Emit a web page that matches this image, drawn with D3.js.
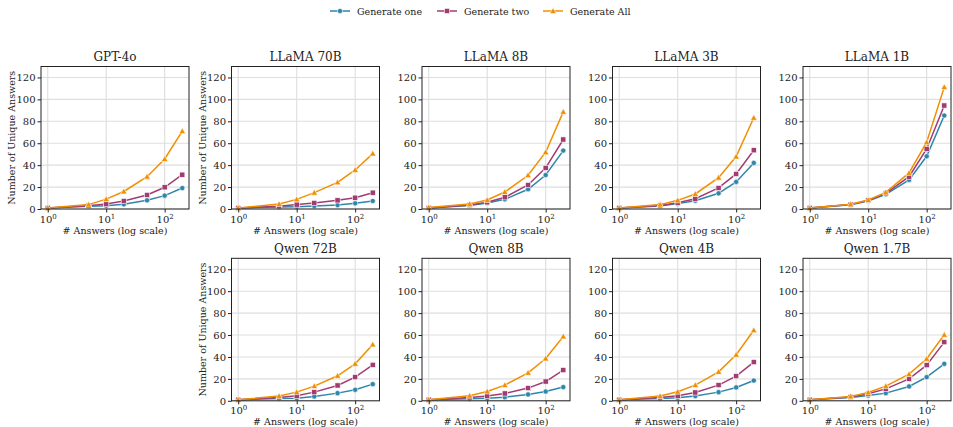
<!DOCTYPE html>
<html>
<head>
<meta charset="utf-8">
<script src="https://cdn.jsdelivr.net/npm/d3@7"></script>
<style>
  body { margin: 0; background: #fff; }
  text { font-family: "DejaVu Serif", serif; fill: #222; }
</style>
</head>
<body>
<div id="canvas"></div>
<script>
// answers sampled (x axis, log scale)
var answers = [1, 5, 10, 20, 50, 100, 200];

var models = ["GPT-4o", "LLaMA 70B", "LLaMA 8B", "LLaMA 3B", "LLaMA 1B",
              "Qwen 72B", "Qwen 8B", "Qwen 4B", "Qwen 1.7B"];
// grid slot of each model (row, col)
var slots = [[0,0],[0,1],[0,2],[0,3],[0,4],[1,1],[1,2],[1,3],[1,4]];

var seriesNames = ["Generate one", "Generate two", "Generate All"];
var seriesColors = ["#2E86AB", "#A23B72", "#F18F01"];

// values, one row per model
var genOne = [
  [1, 2.5, 3.0, 4.3, 7.9, 12.2, 19.1],
  [1, 1.8, 2.1, 2.7, 3.6, 5.2, 7.3],
  [1, 3.3, 5.5, 8.8, 18.0, 31.0, 53.3],
  [1, 2.8, 4.9, 7.6, 14.3, 24.7, 42.0],
  [1, 3.8, 7.3, 13.4, 26.5, 48.1, 85.3],
  [1, 2.0, 2.4, 4.0, 7.0, 10.0, 15.2],
  [1, 1.8, 2.4, 3.3, 5.8, 8.5, 12.5],
  [1, 2.0, 2.7, 4.3, 7.9, 12.2, 18.5],
  [1, 3.0, 4.9, 7.0, 13.1, 21.6, 33.7]
];
var genTwo = [
  [1, 3.0, 4.5, 7.3, 12.8, 19.8, 31.3],
  [1, 2.5, 4.0, 5.5, 7.9, 10.3, 14.9],
  [1, 3.7, 6.1, 10.7, 21.9, 37.5, 63.4],
  [1, 3.2, 5.8, 9.4, 19.2, 32.0, 53.6],
  [1, 4.0, 7.9, 14.3, 29.5, 54.8, 94.4],
  [1, 3.0, 4.6, 7.9, 14.0, 21.6, 32.8],
  [1, 3.0, 4.3, 6.7, 11.6, 17.6, 28.0],
  [1, 3.0, 4.6, 7.6, 14.3, 22.5, 35.3],
  [1, 3.5, 6.4, 10.9, 20.0, 32.5, 53.5]
];
var genAll = [
  [1, 4.0, 9.0, 16.0, 29.5, 45.6, 71.0],
  [1, 4.5, 8.8, 14.9, 24.3, 35.6, 50.5],
  [1.3, 4.6, 8.2, 15.5, 30.8, 51.8, 88.6],
  [1, 4.0, 7.9, 13.7, 28.6, 47.8, 83.2],
  [1, 4.3, 8.2, 15.2, 32.9, 60.9, 111.2],
  [1, 4.3, 7.9, 13.4, 22.8, 33.7, 51.4],
  [1, 4.6, 8.5, 14.3, 25.5, 38.6, 58.7],
  [1, 4.3, 8.2, 14.3, 26.4, 42.0, 64.4],
  [1, 4.0, 7.6, 13.4, 24.3, 38.3, 60.2]
];

var yTicks = [0, 20, 40, 60, 80, 100, 120];
var xTicks = [1, 10, 100];

var W = 953, H = 427;
var svg = d3.select("#canvas").append("svg").attr("width", W).attr("height", H);

var plotW = 148, plotH = 142.5;
var colLeft = function(c) { return 41 + c * 190.5; };
var rowTop = [66.5, 258.3];

var lmin = Math.log10(1), lmax = Math.log10(200), pad = (lmax - lmin) * 0.05;
var x = d3.scaleLog().domain([Math.pow(10, lmin - pad), Math.pow(10, lmax + pad)]).range([0, plotW]);
var y = d3.scaleLinear().domain([0, 130]).range([plotH, 0]);

var allSeries = [genOne, genTwo, genAll];

function drawMarker(g, kind, px, py, color) {
  if (kind === 0) {
    g.append("circle").attr("cx", px).attr("cy", py).attr("r", 2.6)
      .attr("fill", color).attr("stroke", "#fff").attr("stroke-width", 0.6);
  } else if (kind === 1) {
    g.append("rect").attr("x", px - 2.6).attr("y", py - 2.6).attr("width", 5.2).attr("height", 5.2)
      .attr("fill", color).attr("stroke", "#fff").attr("stroke-width", 0.6);
  } else {
    var s = 3.3;
    g.append("path")
      .attr("d", "M" + px + "," + (py - s) + "L" + (px + s) + "," + (py + s * 0.75) + "L" + (px - s) + "," + (py + s * 0.75) + "Z")
      .attr("fill", color).attr("stroke", "#fff").attr("stroke-width", 0.6);
  }
}

models.forEach(function(name, m) {
  var r = slots[m][0], c = slots[m][1];
  var g = svg.append("g").attr("transform", "translate(" + colLeft(c) + "," + rowTop[r] + ")");

  // grid
  g.selectAll(".gy").data(yTicks).enter().append("line")
    .attr("x1", 0).attr("x2", plotW).attr("y1", function(d) { return y(d); }).attr("y2", function(d) { return y(d); })
    .attr("stroke", "#dedede").attr("stroke-width", 1.1);
  g.selectAll(".gx").data(xTicks).enter().append("line")
    .attr("y1", 0).attr("y2", plotH).attr("x1", function(d) { return x(d); }).attr("x2", function(d) { return x(d); })
    .attr("stroke", "#dedede").attr("stroke-width", 1.1);

  // series
  var line = d3.line().x(function(d, i) { return x(answers[i]); }).y(function(d) { return y(d); });
  allSeries.forEach(function(series, s) {
    var vals = series[m];
    g.append("path").attr("d", line(vals)).attr("fill", "none")
      .attr("stroke", seriesColors[s]).attr("stroke-width", 1.5);
    vals.forEach(function(v, i) { drawMarker(g, s, x(answers[i]), y(v), seriesColors[s]); });
  });

  // frame
  g.append("rect").attr("width", plotW).attr("height", plotH)
    .attr("fill", "none").attr("stroke", "#222").attr("stroke-width", 1);

  // y axis
  var yAxis = d3.axisLeft(y).tickValues(yTicks).tickSize(3.5).tickPadding(2);
  var ya = g.append("g").call(yAxis);
  ya.select(".domain").remove();
  ya.selectAll("line").attr("stroke", "#222");
  ya.selectAll("text").style("font-family", "DejaVu Serif").style("font-size", "10px").attr("fill", "#222");

  // x axis with 10^n labels
  var xAxis = d3.axisBottom(x).tickValues(xTicks).tickSize(3.5).tickFormat("");
  var xa = g.append("g").attr("transform", "translate(0," + plotH + ")").call(xAxis);
  xa.select(".domain").remove();
  xa.selectAll("line").attr("stroke", "#222");
  xa.selectAll(".tick").append("text")
    .attr("y", 13.5).attr("text-anchor", "middle").style("font-size", "10px").attr("fill", "#222")
    .each(function(d) {
      var t = d3.select(this);
      t.append("tspan").text("10");
      t.append("tspan").attr("dy", -4).style("font-size", "7px").text(Math.round(Math.log10(d)));
    });

  // titles
  g.append("text").attr("x", plotW / 2).attr("y", -5.5).attr("text-anchor", "middle")
    .style("font-size", "12px").text(name);
  g.append("text").attr("x", plotW / 2).attr("y", plotH + 24.5).attr("text-anchor", "middle")
    .style("font-size", "9.5px").text("# Answers (log scale)");
  if (c <= 1) {
    g.append("text").attr("transform", "translate(-26," + plotH / 2 + ") rotate(-90)")
      .attr("text-anchor", "middle").style("font-size", "9.5px").text("Number of Unique Answers");
  }
});

// legend
var legX = [330, 437, 543];
seriesNames.forEach(function(n, s) {
  var lg = svg.append("g").attr("transform", "translate(" + legX[s] + ",11)");
  lg.append("line").attr("x1", 0).attr("x2", 20).attr("y1", 0).attr("y2", 0)
    .attr("stroke", seriesColors[s]).attr("stroke-width", 1.5);
  drawMarker(lg, s, 10, 0, seriesColors[s]);
  lg.append("text").attr("x", 27).attr("y", 3.5).style("font-size", "9.5px").text(n);
});
</script>
</body>
</html>
